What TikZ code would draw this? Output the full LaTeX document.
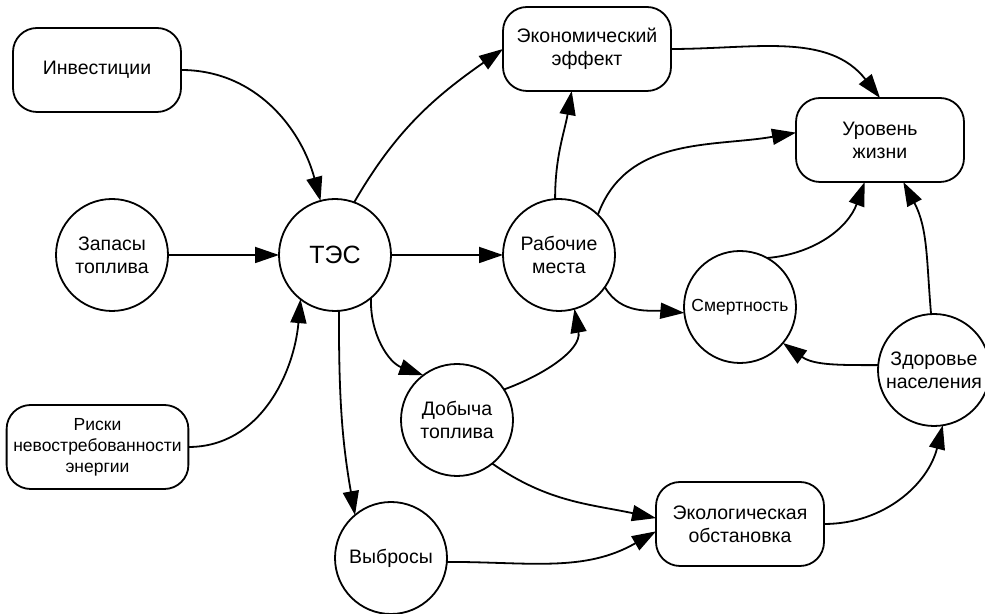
\documentclass[tikz,border=0pt]{standalone}
\usepackage{fontspec}
\setmainfont{Liberation Sans}
\usetikzlibrary{arrows.meta}

\begin{document}
\begin{tikzpicture}
  [x=0.5pt,y=0.5pt,
   >={Triangle[length=12pt,width=8pt]},
   every node/.style={font=\fontsize{9.75}{11.5}\selectfont},
   block/.style={rectangle,draw=black,line width=0.9pt,rounded corners=12pt,align=center,
                 outer sep=0,minimum width=84pt,minimum height=42pt},
   factor/.style={circle,draw=black,line width=0.9pt,align=center,inner sep=0,
                  outer sep=0,minimum size=56pt},
   link/.style={line width=0.9pt,->}]
  \useasboundingbox (0,0) rectangle (985,614);
  \node[block] (inv) at (97,544) {Инвестиции};
  \node[factor] (zap) at (112,359) {Запасы\\топлива};
  \node[factor,font=\fontsize{12.5}{14}\selectfont] (tes) at (335,359) {ТЭС};
  \node[block,minimum width=87.5pt,font=\fontsize{8.75}{10.5}\selectfont] (risk) at (97.5,167) {Риски\\невостребованности\\энергии};
  \node[block] (econ) at (587,565) {Экономический\\эффект};
  \node[block] (level) at (880,474) {Уровень\\жизни};
  \node[factor] (jobs) at (559,359) {Рабочие\\места};
  \node[factor,font=\fontsize{8.75}{10.5}\selectfont] (death) at (740,307) {Смертность};
  \node[factor] (health) at (934,244) {Здоровье\\населения};
  \node[factor] (mining) at (457,194) {Добыча\\топлива};
  \node[block] (ecology) at (740,90) {Экологическая\\обстановка};
  \node[factor] (emis) at (391,56) {Выбросы};
  % into the plant
  \draw[link] (inv) to[out=0,in=105] (tes);
  \draw[link] (zap) -- (tes);
  \draw[link] (risk) to[out=0,in=-95] (tes.-128);
  % out of the plant
  \draw[link] (tes.70) to[out=60,in=-145] (econ.west);
  \draw[link] (tes) -- (jobs);
  \draw[link] (tes.-50) to[out=-92,in=160] (mining.127);
  \draw[link] (tes.-86) to[out=-90,in=100] (emis.130);
  \draw[link] (jobs.94) to[out=90,in=-100] (econ.-110);
  \draw[link] (econ) to[out=0,in=128] (level.north);
  \draw[link] (jobs.46) to[out=70,in=190] (level.175);
  \draw[link] (jobs.-35) to[out=-60,in=175] (death.186);
  \draw[link] (death.61) to[out=5,in=-110] (level.-110);
  \draw[link] (health.93) to[out=95,in=-62] (level.-61);
  \draw[link] (health.175) to[out=180,in=-36] (death.-40);
  \draw[link] (mining.33) to[out=20,in=-80] (jobs.-74);
  \draw[link] (mining.-51) to[out=-35,in=168] (ecology.176);
  \draw[link] (emis.-4) to[out=0,in=-150] (ecology.185);
  \draw[link] (ecology) to[out=0,in=-104] (health.-81);
\end{tikzpicture}
\end{document}
